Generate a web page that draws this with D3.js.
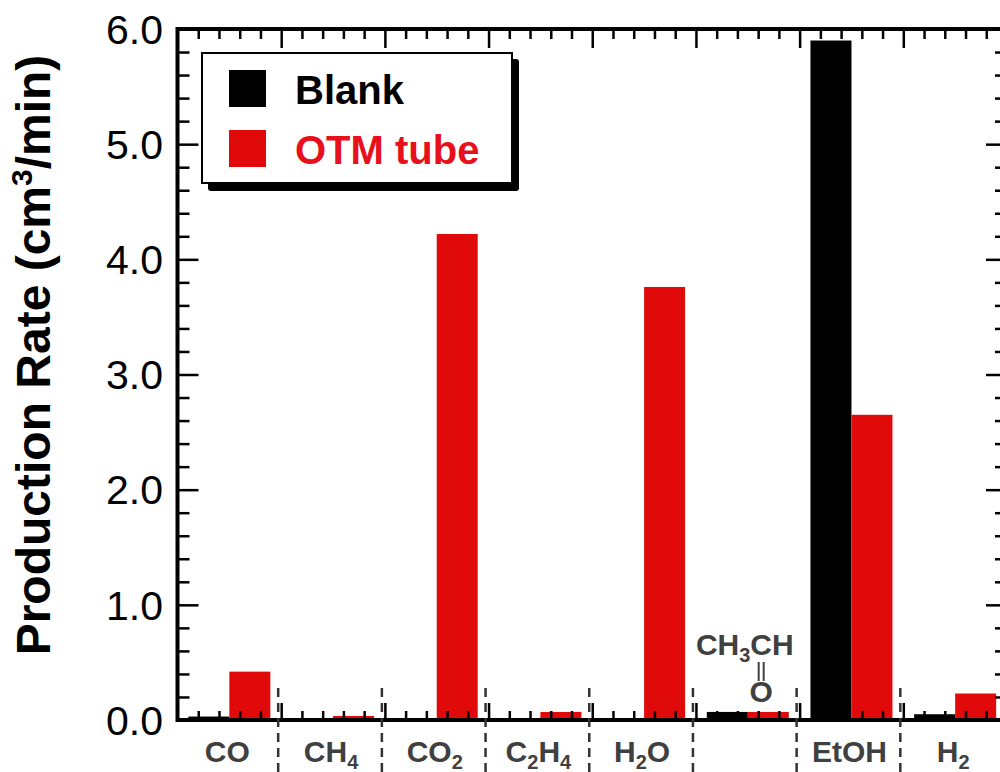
<!DOCTYPE html>
<html>
<head>
<meta charset="utf-8">
<script src="https://cdn.jsdelivr.net/npm/d3@7"></script>
<style>
  body { margin: 0; background: #fff; }
  svg { display: block; font-family: "Liberation Sans", Arial, sans-serif; }
</style>
</head>
<body>
<svg id="vis-svg" width="1000" height="772"></svg>
<script>

// Data
var categories  = ["CO", "CH4", "CO2", "C2H4", "H2O", "CH3CHO", "EtOH", "H2"];
var blankValues = [0.03, 0, 0, 0, 0, 0.07, 5.90, 0.05];
var otmValues   = [0.42, 0.035, 4.22, 0.07, 3.76, 0.07, 2.65, 0.23];
var yTicks      = [0, 1, 2, 3, 4, 5, 6];
var seriesNames = ["Blank", "OTM tube"];
var seriesColors = ["#000000", "#e00a0a"];

function drawChart() {

var svg = d3.select('#vis-svg');

// Bounds
var pLeft = 177.5, pRight = 1007, pTop = 29, pBottom = 720;

// Scales
var xScale = d3.scaleBand()
    .domain(categories)
    .range([pLeft, pRight]);

var xIndex = d3.scaleLinear()
    .domain([0, categories.length])
    .range([pLeft, pRight]);

var yScale = d3.scaleLinear()
    .domain([0, 6])
    .range([pBottom, pTop]);

var barW = 41;

// Bars
var groups = svg.append('g').attr('class', 'bars');
categories.forEach(function(c, i) {
  var cx = xScale(c) + xScale.bandwidth() / 2;
  groups.append('rect')
    .attr('x', cx - barW)
    .attr('y', yScale(blankValues[i]))
    .attr('width', barW)
    .attr('height', pBottom - yScale(blankValues[i]))
    .attr('fill', seriesColors[0]);
  groups.append('rect')
    .attr('x', cx)
    .attr('y', yScale(otmValues[i]))
    .attr('width', barW)
    .attr('height', pBottom - yScale(otmValues[i]))
    .attr('fill', seriesColors[1]);
});

// Minor / major tick values
var yMinor = d3.range(0, 6.001, 0.2).filter(function(v){ return Math.abs(v - Math.round(v)) > 0.01; });
var xMinor = d3.range(0, categories.length + 0.001, 0.2).filter(function(v){ return Math.abs(v - Math.round(v)) > 0.01; });
var xMajor = d3.range(1, categories.length);

function styleAxis(g) {
  g.select('.domain').remove();
  g.selectAll('line').attr('stroke', '#000').attr('stroke-width', 2.5);
  g.selectAll('text').remove();
}

// Left axis
svg.append('g').attr('transform', 'translate(' + pLeft + ',0)')
  .call(d3.axisLeft(yScale).tickValues(yTicks).tickSize(-21).tickFormat('')).call(styleAxis);
svg.append('g').attr('transform', 'translate(' + pLeft + ',0)')
  .call(d3.axisLeft(yScale).tickValues(yMinor).tickSize(-12).tickFormat('')).call(styleAxis);
// Right axis
svg.append('g').attr('transform', 'translate(' + pRight + ',0)')
  .call(d3.axisRight(yScale).tickValues(yTicks).tickSize(-21).tickFormat('')).call(styleAxis);
svg.append('g').attr('transform', 'translate(' + pRight + ',0)')
  .call(d3.axisRight(yScale).tickValues(yMinor).tickSize(-12).tickFormat('')).call(styleAxis);
// Top axis
svg.append('g').attr('transform', 'translate(0,' + pTop + ')')
  .call(d3.axisTop(xIndex).tickValues(xMajor).tickSize(-19).tickFormat('')).call(styleAxis);
svg.append('g').attr('transform', 'translate(0,' + pTop + ')')
  .call(d3.axisTop(xIndex).tickValues(xMinor).tickSize(-10).tickFormat('')).call(styleAxis);
// Bottom axis
svg.append('g').attr('transform', 'translate(0,' + pBottom + ')')
  .call(d3.axisBottom(xIndex).tickValues(xMajor).tickSize(-17).tickFormat('')).call(styleAxis);
svg.append('g').attr('transform', 'translate(0,' + pBottom + ')')
  .call(d3.axisBottom(xIndex).tickValues(xMinor).tickSize(-9).tickFormat('')).call(styleAxis);

// Frame
svg.append('rect')
  .attr('x', pLeft).attr('y', pTop)
  .attr('width', pRight - pLeft).attr('height', pBottom - pTop)
  .attr('fill', 'none').attr('stroke', '#000').attr('stroke-width', 4);

// Y tick labels
svg.append('g').selectAll('text')
  .data(yTicks).enter().append('text')
  .attr('x', 163)
  .attr('y', function(d){ return yScale(d); })
  .attr('dy', '0.36em')
  .attr('text-anchor', 'end')
  .attr('font-size', 41)
  .attr('fill', '#000')
  .text(function(d){ return d.toFixed(1); });

// Y axis label
var yTitle = svg.append('text')
  .attr('transform', 'translate(50,355) rotate(-90)')
  .attr('text-anchor', 'middle')
  .attr('font-size', 48)
  .attr('font-weight', 'bold')
  .attr('fill', '#000');
yTitle.append('tspan').text('Production Rate (cm');
yTitle.append('tspan').attr('font-size', 30).attr('dy', -18).text('3');
yTitle.append('tspan').attr('dy', 18).text('/min)');

// Category separators
svg.append('g').selectAll('line')
  .data(xMajor).enter().append('line')
  .attr('x1', function(d){ return xIndex(d) - 3; })
  .attr('x2', function(d){ return xIndex(d) - 3; })
  .attr('y1', 688).attr('y2', 772)
  .attr('stroke', '#333')
  .attr('stroke-width', 2.5)
  .attr('stroke-dasharray', '9,6');

// X labels with subscripts
var labelColor = '#404040';
function chemText(sel, str) {
  var shift = 0;
  str.split(/(\d+)/).forEach(function(part) {
    if (part === '') return;
    if (/^\d+$/.test(part)) {
      sel.append('tspan').attr('font-size', 20).attr('dy', 7 - shift).text(part);
      shift = 7;
    } else {
      sel.append('tspan').attr('dy', -shift).text(part);
      shift = 0;
    }
  });
}
categories.forEach(function(c) {
  if (c === 'CH3CHO') return;
  var t = svg.append('text')
    .attr('x', xScale(c) + xScale.bandwidth() / 2 - 2)
    .attr('y', 762)
    .attr('text-anchor', 'middle')
    .attr('font-size', 30)
    .attr('font-weight', 'bold')
    .attr('fill', labelColor);
  chemText(t, c);
});

// Acetaldehyde label above its bars
var acX = xScale('CH3CHO') + xScale.bandwidth() / 2;
var ac = svg.append('text')
  .attr('x', acX - 3)
  .attr('y', 655)
  .attr('text-anchor', 'middle')
  .attr('font-size', 30)
  .attr('font-weight', 'bold')
  .attr('fill', labelColor);
chemText(ac, 'CH3CH');
var cExt = ac.node().getExtentOfChar(3);
var cCenter = cExt.x + cExt.width / 2;
[-2.5, 2.5].forEach(function(dx) {
  svg.append('line')
    .attr('x1', cCenter + dx).attr('x2', cCenter + dx)
    .attr('y1', 662).attr('y2', 681)
    .attr('stroke', labelColor).attr('stroke-width', 2);
});
svg.append('text')
  .attr('x', cCenter).attr('y', 702)
  .attr('text-anchor', 'middle')
  .attr('font-size', 30)
  .attr('font-weight', 'bold')
  .attr('fill', labelColor)
  .text('O');

// Legend
var lg = svg.append('g');
lg.append('rect')
  .attr('x', 208).attr('y', 59).attr('width', 311).attr('height', 132)
  .attr('rx', 3).attr('fill', '#000');
lg.append('rect')
  .attr('x', 202).attr('y', 53).attr('width', 310).attr('height', 130)
  .attr('fill', '#fff').attr('stroke', '#000').attr('stroke-width', 2);
seriesNames.forEach(function(name, i) {
  lg.append('rect')
    .attr('x', 229).attr('y', 70 + i * 60)
    .attr('width', 37).attr('height', 37)
    .attr('fill', seriesColors[i]);
  lg.append('text')
    .attr('x', 295).attr('y', 104 + i * 60)
    .attr('font-size', 40)
    .attr('font-weight', 'bold')
    .attr('fill', i === 0 ? '#000' : '#e8101a')
    .text(name);
});

}

drawChart();

</script>
</body>
</html>
